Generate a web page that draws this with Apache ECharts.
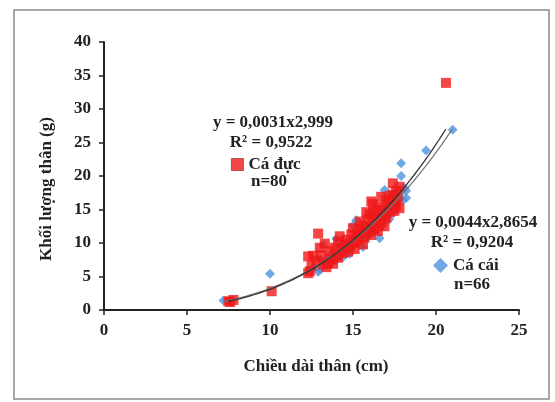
<!DOCTYPE html>
<html>
<head>
<meta charset="utf-8">
<script src="https://cdn.jsdelivr.net/npm/echarts@6/dist/echarts.min.js"></script>
<style>
  html, body { margin: 0; padding: 0; background: #fff; }
  #chart { width: 555px; height: 402px; }
</style>
</head>
<body>
<div id="chart"></div>
<script>
// Male fish (Cá đực): body length (cm) and body weight (g)
const maleLength = [7.5, 7.8, 7.6, 10.1, 12.3, 12.4, 12.3, 12.6, 12.9, 13.0,
  12.8, 13.1, 13.2, 13.4, 13.5, 13.6, 13.7, 13.8, 13.9, 14.0,
  14.1, 14.1, 14.3, 14.4, 14.5, 14.6, 14.7, 14.8, 14.9, 15.0,
  15.0, 15.1, 15.2, 15.3, 15.4, 15.5, 15.6, 15.6, 15.7, 15.8,
  15.9, 16.0, 16.0, 16.1, 16.1, 16.2, 16.3, 16.3, 16.4, 16.5,
  16.5, 16.6, 16.6, 16.7, 16.8, 16.9, 16.9, 17.0, 17.0, 17.1,
  17.2, 17.2, 17.3, 17.4, 17.4, 17.5, 17.5, 17.6, 17.6, 17.7,
  17.8, 17.8, 16.2, 15.4, 14.2, 13.3, 12.5, 16.7, 15.8, 20.6];
const maleWeight = [1.3, 1.5, 1.2, 2.8, 5.5, 5.8, 8.0, 8.1, 11.4, 9.3,
  7.4, 8.2, 6.8, 6.4, 7.0, 8.8, 7.6, 6.9, 9.3, 8.1,
  10.2, 7.8, 9.0, 8.5, 9.8, 10.5, 8.7, 9.4, 11.3, 12.2,
  10.0, 9.1, 11.0, 10.4, 12.0, 11.5, 9.8, 12.6, 10.8, 11.6,
  13.5, 12.3, 14.3, 16.2, 11.2, 13.0, 12.0, 14.8, 13.6, 11.8,
  15.4, 12.6, 14.1, 13.2, 15.0, 14.0, 12.5, 16.5, 13.8, 15.5,
  14.6, 17.0, 15.9, 18.9, 17.2, 16.3, 14.8, 17.8, 15.6, 16.8,
  18.4, 15.2, 15.8, 13.2, 11.0, 9.9, 6.6, 16.9, 14.6, 33.9];

// Female fish (Cá cái)
const femaleLength = [7.2, 10.0, 12.9, 13.0, 13.2, 13.4, 13.5, 13.7, 13.8, 14.0,
  14.1, 14.2, 14.3, 14.4, 14.5, 14.6, 14.7, 14.8, 14.9, 15.0,
  15.1, 15.2, 15.2, 15.3, 15.4, 15.5, 15.6, 15.7, 15.8, 15.9,
  16.0, 16.1, 16.2, 16.3, 16.4, 16.5, 16.6, 16.6, 16.7, 16.8,
  16.9, 16.9, 17.0, 17.1, 17.2, 17.2, 17.3, 17.4, 17.5, 17.5,
  17.6, 17.7, 17.8, 17.9, 17.9, 18.0, 18.1, 18.2, 18.2, 19.4,
  21.0, 14.0, 13.1, 16.0, 15.0, 12.6];
const femaleWeight = [1.4, 5.4, 5.7, 6.0, 9.7, 7.2, 8.0, 7.0, 8.6, 7.5,
  9.0, 8.2, 9.6, 7.9, 8.9, 10.0, 9.2, 8.4, 10.4, 9.6,
  10.9, 13.4, 9.9, 11.3, 10.2, 11.8, 9.4, 10.8, 12.0, 11.0,
  12.6, 11.4, 13.2, 11.9, 12.8, 14.0, 10.7, 13.4, 14.6, 12.9,
  15.2, 17.9, 14.2, 15.8, 13.6, 16.4, 15.0, 16.0, 14.6, 17.3,
  15.8, 16.6, 17.4, 20.0, 21.9, 16.4, 18.2, 16.7, 17.8, 23.8,
  26.9, 10.6, 7.4, 14.4, 12.6, 6.3];

// Power-law fits y = a·x^b as printed on the chart
const maleFit = [0.0031, 2.999];
const femaleFit = [0.0044, 2.8654];

const xTicks = [0, 5, 10, 15, 20, 25];
const yTicks = [0, 5, 10, 15, 20, 25, 30, 35, 40];

const serif = '"Liberation Serif", "Times New Roman", serif';
const font = 'bold 17px ' + serif;

function pairs(xs, ys) { return xs.map((x, i) => [x, ys[i]]); }

function fitCurve(fit, xs) {
  const lo = Math.min(...xs), hi = Math.max(...xs);
  const pts = [];
  const n = 60;
  for (let i = 0; i <= n; i++) {
    const x = lo + (hi - lo) * i / n;
    pts.push([x, fit[0] * Math.pow(x, fit[1])]);
  }
  return pts;
}

function note(text, x, y) {
  return {
    type: 'text', x: x, y: y, silent: true,
    style: { text: text, align: 'center', verticalAlign: 'middle', font: font, fill: '#222' }
  };
}

const chart = echarts.init(document.getElementById('chart'), null, { renderer: 'canvas' });

const labelText = { fontFamily: serif, fontWeight: 'bold', fontSize: 17, color: '#222' };

chart.setOption({
  animation: false,
  backgroundColor: '#fff',
  grid: { left: 104, right: 36, top: 42, bottom: 92, containLabel: false },
  xAxis: {
    type: 'value', min: xTicks[0], max: xTicks[xTicks.length - 1], interval: 5,
    axisLine: { show: true, onZero: false, lineStyle: { color: '#222', width: 2 } },
    axisTick: { show: true, inside: false, length: 5, lineStyle: { color: '#222', width: 1.5 } },
    axisLabel: Object.assign({ margin: 12 }, labelText),
    splitLine: { show: false }
  },
  yAxis: {
    type: 'value', min: yTicks[0], max: yTicks[yTicks.length - 1], interval: 5,
    axisLine: { show: true, onZero: false, lineStyle: { color: '#222', width: 2 } },
    axisTick: { show: true, inside: false, length: 5, lineStyle: { color: '#222', width: 1.5 } },
    axisLabel: Object.assign({ margin: 13 }, labelText),
    splitLine: { show: false }
  },
  legend: [
    {
      left: 226, top: 151, itemWidth: 12, itemHeight: 12, itemGap: 6,
      data: [{ name: 'Cá đực', icon: 'rect', itemStyle: { borderColor: '#8a2020', borderWidth: 0.8 } }],
      textStyle: labelText, selectedMode: false
    },
    {
      left: 428, top: 252, itemWidth: 15, itemHeight: 15, itemGap: 5,
      data: [{ name: 'Cá cái', icon: 'diamond' }],
      textStyle: labelText, selectedMode: false
    }
  ],
  graphic: [
    {
      type: 'rect', shape: { x: 14, y: 10, width: 535, height: 389 },
      style: { fill: 'none', stroke: '#8a8a8a', lineWidth: 1.5 }, silent: true
    },
    note('Chiều dài thân (cm)', 316, 367),
    {
      type: 'text', x: 47, y: 189, rotation: Math.PI / 2, silent: true,
      style: { text: 'Khối lượng thân (g)', align: 'center', verticalAlign: 'middle', font: font, fill: '#222' }
    },
    note('y = 0,0031x2,999', 273, 123),
    note('R² = 0,9522', 271, 143),
    note('n=80', 269, 182),
    note('y = 0,0044x2,8654', 473, 223),
    note('R² = 0,9204', 472, 243),
    note('n=66', 472, 285)
  ],
  series: [
    {
      name: 'Cá cái', type: 'scatter', symbol: 'diamond', symbolSize: 10,
      itemStyle: { color: '#4a94dc' },
      data: pairs(femaleLength, femaleWeight), z: 2
    },
    {
      name: 'Cá đực', type: 'scatter', symbol: 'rect', symbolSize: 10,
      itemStyle: { color: '#f01818' },
      data: pairs(maleLength, maleWeight), z: 3
    },
    {
      name: 'fit-female', type: 'line', showSymbol: false, silent: true,
      lineStyle: { color: '#777', width: 1.3 },
      data: fitCurve(femaleFit, femaleLength), z: 4
    },
    {
      name: 'fit-male', type: 'line', showSymbol: false, silent: true,
      lineStyle: { color: '#333', width: 1.3 },
      data: fitCurve(maleFit, maleLength), z: 5
    }
  ]
});
</script>
</body>
</html>
